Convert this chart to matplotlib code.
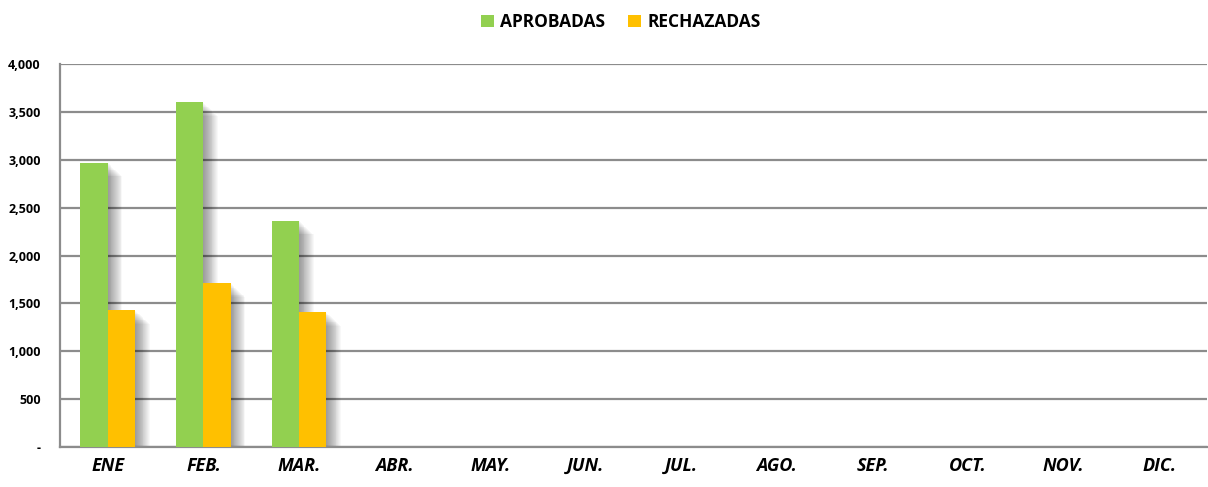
import numpy as np
import matplotlib.pyplot as plt
from matplotlib.patches import Rectangle
from matplotlib.ticker import FuncFormatter

# Data
months = ['ENE', 'FEB.', 'MAR.', 'ABR.', 'MAY.', 'JUN.', 'JUL.', 'AGO.', 'SEP.', 'OCT.', 'NOV.', 'DIC.']
aprobadas = [2970, 3600, 2365, 0, 0, 0, 0, 0, 0, 0, 0, 0]
rechazadas = [1430, 1710, 1410, 0, 0, 0, 0, 0, 0, 0, 0, 0]

green = '#92d050'
orange = '#ffc000'
grid_col = '#8c8c8c'

plt.rcParams['font.family'] = ['Open Sans', 'DejaVu Sans']

fig = plt.figure(figsize=(12.08, 4.87), dpi=100)
ax = fig.add_axes([0.0497, 0.082, 0.9495, 0.7866])

x = np.arange(len(months))
w = 0.287

def shadowed_bars(xs, vals, color, label):
    bars = ax.bar(xs, vals, w, color=color, label=label, zorder=3, linewidth=0)
    # soft shadow to the right: many faint rectangles stacked
    for b in bars:
        h = b.get_height()
        if h <= 0:
            continue
        for k in range(1, 17):
            off = 0.0095 * k
            ax.add_patch(Rectangle((b.get_x() + off, 0), b.get_width(), h - 9 * k,
                                   facecolor='black', alpha=0.028, linewidth=0, zorder=2))
    return bars

shadowed_bars(x - w / 2, aprobadas, green, 'APROBADAS')
shadowed_bars(x + w / 2, rechazadas, orange, 'RECHAZADAS')

ax.set_xlim(-0.5, len(months) - 0.5)
ax.set_ylim(0, 4000)
ax.set_yticks(np.arange(0, 4001, 500))
ax.yaxis.set_major_formatter(FuncFormatter(lambda v, p: '-' if v == 0 else f'{int(v):,}'))
ax.yaxis.grid(True, color=grid_col, linewidth=1.6, zorder=1)
ax.set_axisbelow(True)

ax.set_xticks(x)
ax.set_xticklabels(months, fontsize=13, fontweight='bold', fontstyle='italic')
for lbl in ax.get_yticklabels():
    lbl.set_fontweight('bold')
    lbl.set_fontsize(9)

ax.tick_params(axis='both', length=0)
ax.tick_params(axis='x', pad=7)
ax.tick_params(axis='y', pad=14)

for s in ['top', 'right']:
    ax.spines[s].set_visible(False)
for s in ['left', 'bottom']:
    ax.spines[s].set_color(grid_col)
    ax.spines[s].set_linewidth(1.6)

leg = fig.legend(loc='upper center', bbox_to_anchor=(0.514, 1.005), ncol=2, frameon=False,
                 prop={'weight': 'bold', 'size': 12.5}, handlelength=0.75, handleheight=0.75,
                 handletextpad=0.35, columnspacing=1.3)

fig.savefig('out.png', dpi=100)
